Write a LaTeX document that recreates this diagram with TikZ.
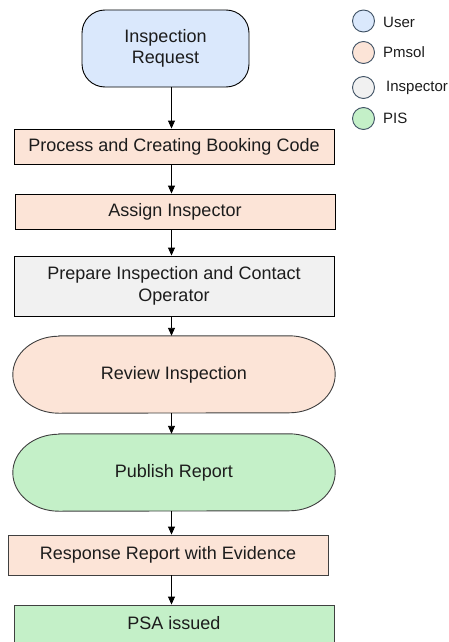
\documentclass[tikz,border=0pt]{standalone}
\usepackage{fontspec}
\setmainfont{Liberation Sans}
\usetikzlibrary{arrows.meta}
\pgfdeclarelayer{bg}
\pgfsetlayers{bg,main}
\definecolor{userfill}{HTML}{DAE8FC}
\definecolor{pmsolfill}{HTML}{FCE4D7}
\definecolor{inspfill}{HTML}{F1F1F1}
\definecolor{pisfill}{HTML}{C4F0C8}
\definecolor{legline}{HTML}{3E5063}
\definecolor{txt}{HTML}{1C1C1C}
\tikzset{
  flow/.style={draw=black, line width=0.9pt, text=txt, align=center, inner sep=0pt,
    font=\fontsize{18}{21.6}\selectfont},
  rectbox/.style={flow, rectangle},
  stadtext/.style={rectangle, text=txt, align=center, inner sep=0pt,
    font=\fontsize{18}{21.6}\selectfont},
  stadline/.style={draw=black!75, line width=0.9pt},
  legdot/.style={circle, draw=legline, line width=0.9pt, minimum size=22pt, inner sep=0pt},
  legtxt/.style={anchor=west, text=txt, inner sep=0pt, font=\fontsize{15}{18}\selectfont},
  arr/.style={draw=black, line width=0.9pt, -{Triangle[length=8pt,width=7pt]}}
}
\newcommand\stadiumshape[2]{%
  \begin{pgfonlayer}{bg}
  \filldraw[stadline, fill=#2] ([xshift=46pt]#1.north west) -- ([xshift=-46pt]#1.north east)
    arc[start angle=90, end angle=-90, x radius=46pt, y radius=38.5pt]
    -- ([xshift=46pt]#1.south west)
    arc[start angle=270, end angle=90, x radius=46pt, y radius=38.5pt] -- cycle;
  \end{pgfonlayer}}
\begin{document}
\begin{tikzpicture}[x=1pt,y=-1pt]
\useasboundingbox (0,0) rectangle (449,642);
\clip (0,0) rectangle (449,642);
\begin{pgfonlayer}{bg}
\fill[white] (0,0) rectangle (449,642);
\end{pgfonlayer}
% flow nodes
\node[flow, rectangle, rounded corners=23pt, fill=userfill, minimum width=167pt, minimum height=77pt] (req) at (165.5,48.5) {Inspection\\Request};
\node[rectbox, fill=pmsolfill, minimum width=320pt, minimum height=35pt] (b1) at (174,146.5) {Process and Creating Booking Code};
\node[rectbox, fill=pmsolfill, minimum width=320pt, minimum height=35pt] (b2) at (175,211.5) {Assign Inspector};
\node[rectbox, fill=inspfill, minimum width=320pt, minimum height=60pt] (b3) at (174,286) {Prepare Inspection and Contact\\Operator};
\node[stadtext, minimum width=322pt, minimum height=77pt] (rev) at (174,374.5) {Review Inspection};
\stadiumshape{rev}{pmsolfill}
\node[stadtext, minimum width=322pt, minimum height=77pt] (pub) at (174,472.5) {Publish Report};
\stadiumshape{pub}{pisfill}
\node[rectbox, draw=black!75, fill=pmsolfill, minimum width=320pt, minimum height=40pt] (resp) at (168,555) {Response Report with Evidence};
\node[rectbox, draw=black!75, fill=pisfill, minimum width=320pt, minimum height=40pt] (psa) at (174,625) {};
\node[text=txt, font=\fontsize{18}{21.6}\selectfont, inner sep=0pt] (psat) at (174,623) {PSA issued};
% arrows
\coordinate (ax) at (171.5,0);
\draw[arr] (req.south -| ax) -- (b1.north -| ax);
\draw[arr] (b1.south -| ax) -- (b2.north -| ax);
\draw[arr] (b2.south -| ax) -- (b3.north -| ax);
\draw[arr] (b3.south -| ax) -- (rev.north -| ax);
\draw[arr] (rev.south -| ax) -- (pub.north -| ax);
\draw[arr] (pub.south -| ax) -- (resp.north -| ax);
\draw[arr] (resp.south -| ax) -- (psa.north -| ax);
% legend
\node[legdot, fill=userfill] (l1) at (363.5,21) {};
\node[legdot, fill=pmsolfill] (l2) at (363.5,52.5) {};
\node[legdot, fill=inspfill] (l3) at (363.5,87.5) {};
\node[legdot, fill=pisfill] (l4) at (363.5,118.5) {};
\node[legtxt] (t1) at (383,22) {User};
\node[legtxt] (t2) at (383,52) {Pmsol};
\node[legtxt] (t3) at (386,88) {Inspector};
\node[legtxt] (t4) at (383,118) {PIS};
\end{tikzpicture}
\end{document}
